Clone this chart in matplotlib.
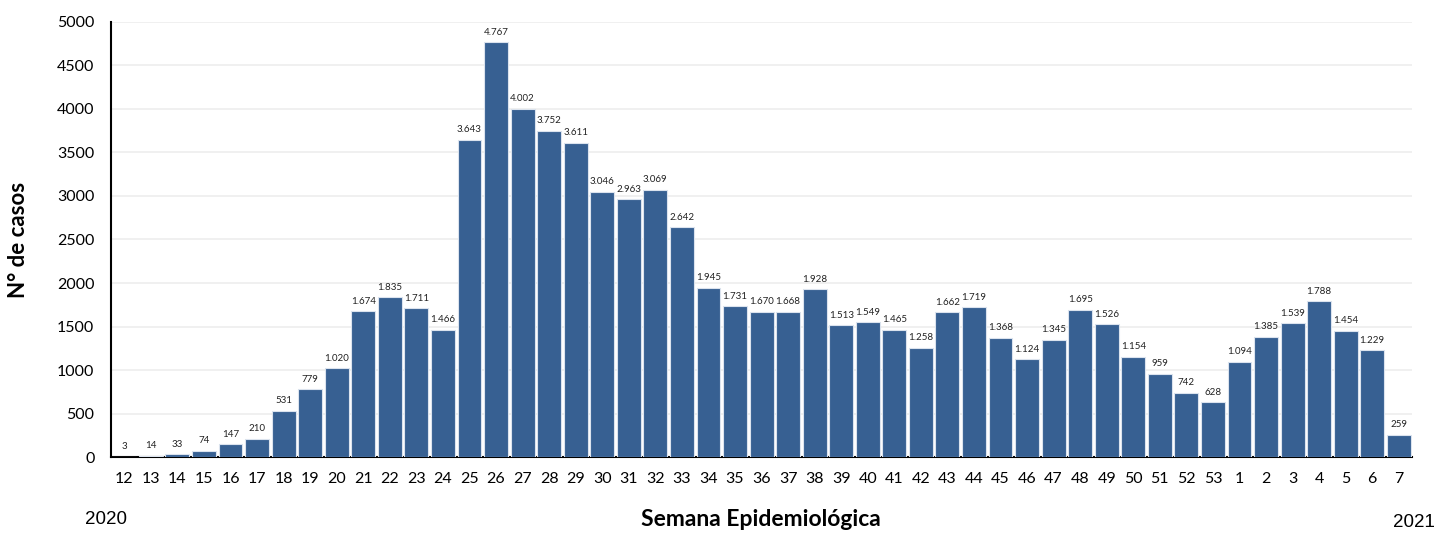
import matplotlib.pyplot as plt
import numpy as np

semanas = [str(s) for s in range(12, 54)] + [str(s) for s in range(1, 8)]
casos = [3, 14, 33, 74, 147, 210, 531, 779, 1020, 1674, 1835, 1711, 1466,
         3643, 4767, 4002, 3752, 3611, 3046, 2963, 3069, 2642, 1945, 1731,
         1670, 1668, 1928, 1513, 1549, 1465, 1258, 1662, 1719, 1368, 1124,
         1345, 1695, 1526, 1154, 959, 742, 628, 1094, 1385, 1539, 1788,
         1454, 1229, 259]

plt.rcParams['font.family'] = ['Lato', 'DejaVu Sans']

fig = plt.figure(figsize=(14.35, 5.34), dpi=100)
ax = fig.add_axes([0.0774, 0.144, 0.9066, 0.815])

x = np.arange(len(casos))
bars = ax.bar(x, casos, width=0.9, color='#376092', edgecolor='#dbe3ee', linewidth=0.8, zorder=3)

for xi, v in zip(x, casos):
    lab = f"{v:,}".replace(',', '.')
    ax.annotate(lab, (xi, v), xytext=(0, 4), textcoords='offset points',
                ha='center', va='bottom', fontsize=7, color='#222222')

ax.set_xlim(-0.5, len(casos) - 0.5)
ax.set_ylim(0, 5000)
ax.set_yticks(range(0, 5001, 500))
ax.set_xticks(x)
ax.set_xticklabels(semanas, fontsize=11.5)
ax.tick_params(axis='y', labelsize=11.5, length=0, pad=12)
ax.tick_params(axis='x', length=0, pad=11)
ax.grid(axis='y', color='#eeeeee', linewidth=1.2, zorder=0)

for side in ['top', 'right']:
    ax.spines[side].set_visible(False)
ax.spines['left'].set_linewidth(1.5)
ax.spines['bottom'].set_linewidth(1.5)

ax.set_ylabel('N° de casos', fontsize=16, fontweight='bold', labelpad=20)
fig.text(0.53, 0.008, 'Semana Epidemiológica', ha='center', va='bottom', fontsize=16.5, fontweight='bold')
fig.text(0.074, 0.012, '2020', ha='center', va='bottom', fontsize=13.5, family='Liberation Sans')
fig.text(0.9855, 0.005, '2021', ha='center', va='bottom', fontsize=13.5, family='Liberation Sans')

fig.savefig('out.png', dpi=100)
